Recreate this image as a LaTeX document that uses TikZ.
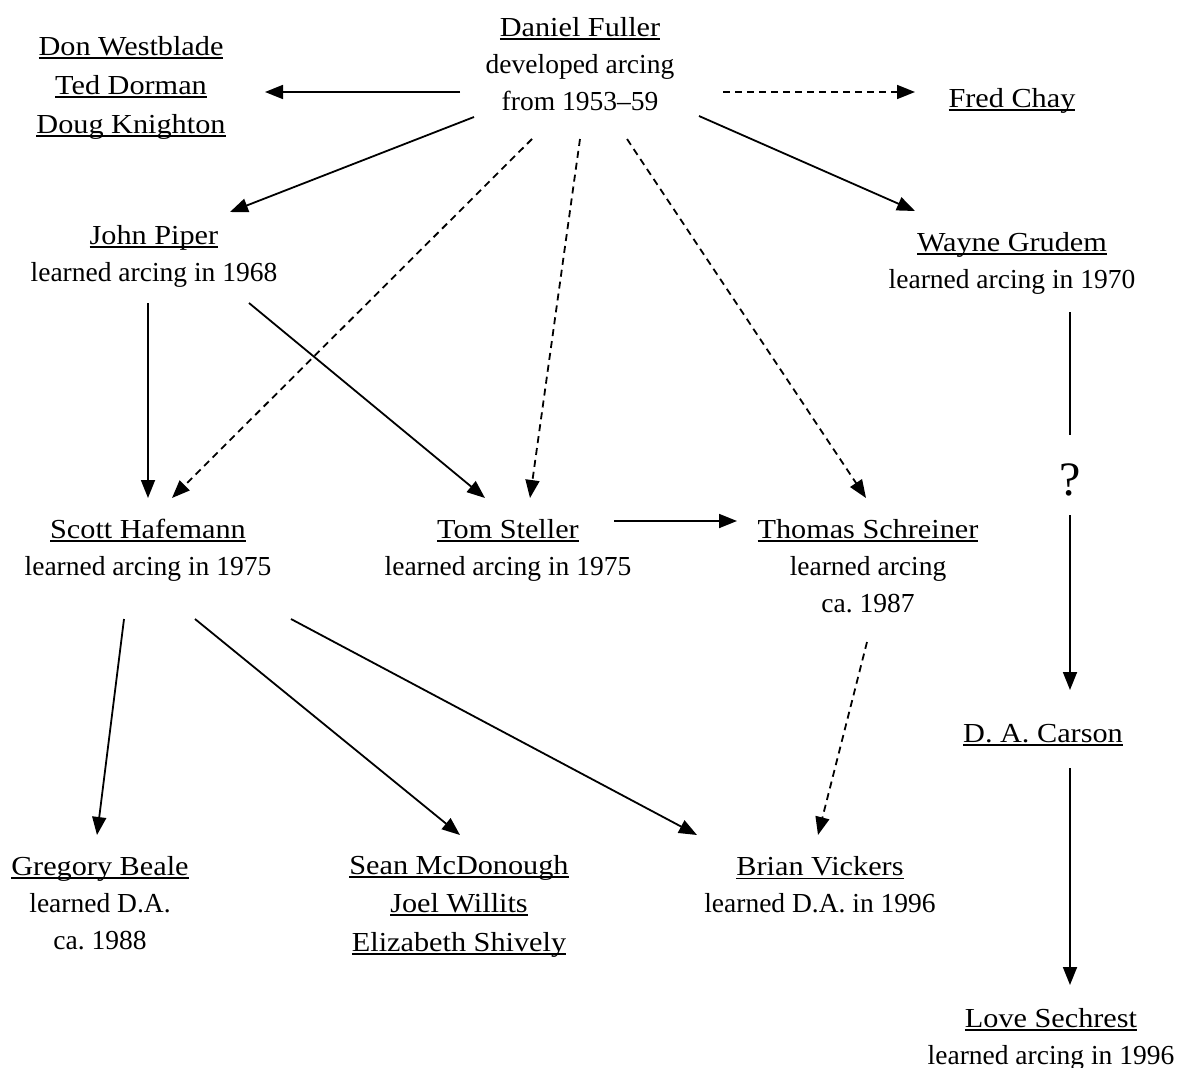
\documentclass[tikz,border=0pt]{standalone}
\usepackage{fontspec}
\setmainfont{Liberation Serif}
\usetikzlibrary{arrows.meta}
\newcommand{\undl}[1]{\setbox0\hbox{\addfontfeature{FakeStretch=1.1}#1}\rlap{\rule[-3.5pt]{\wd0}{1.8pt}}\box0}
\begin{document}
\begin{tikzpicture}[x=1pt,y=-1pt,
  person/.style={align=center, font=\fontsize{27.5}{37}\selectfont, inner sep=0pt},
  arr/.style={line width=1.8pt, -{Triangle[length=18pt,width=14pt]}},
  plain/.style={line width=1.8pt},
  dsh/.style={arr, dash pattern=on 7pt off 5pt}]
\useasboundingbox (0,0) rectangle (1179,1068);
\node[person] (ful) at (580,64) {\undl{Daniel Fuller}\\developed arcing\\from 1953–59};
\node[person, font=\fontsize{27.5}{39}\selectfont] (wes) at (131,88) {\undl{Don Westblade}\\\undl{Ted Dorman}\\\undl{Doug Knighton}};
\node[person] (chay) at (1012,101) {\undl{Fred Chay}};
\node[person] (pip) at (154,256) {\undl{John Piper}\\learned arcing in 1968};
\node[person] (gru) at (1012,263) {\undl{Wayne Grudem}\\learned arcing in 1970};
\node[person] (haf) at (148,550) {\undl{Scott Hafemann}\\learned arcing in 1975};
\node[person] (ste) at (508,550) {\undl{Tom Steller}\\learned arcing in 1975};
\node[person] (sch) at (868,566) {\undl{Thomas Schreiner}\\learned arcing\\ca.\ 1987};
\node[inner sep=0pt, font=\fontsize{48}{54}\selectfont] (q) at (1070,480) {?};
\node[person] (car) at (1043,735) {\undl{D. A. Carson}};
\node[person] (bea) at (100,903) {\undl{Gregory Beale}\\learned D.A.\\ca.\ 1988};
\node[person, font=\fontsize{27.5}{38.5}\selectfont] (sea) at (459,906) {\undl{Sean McDonough}\\\undl{Joel Willits}\\\undl{Elizabeth Shively}};
\node[person] (vic) at (820,885) {\undl{Brian Vickers}\\learned D.A. in 1996};
\node[person] (sec) at (1051,1039) {\undl{Love Sechrest}\\learned arcing in 1996};

\draw[arr] ([shift={(-120,28)}]ful.center) -- ([shift={(134,4)}]wes.center);
\draw[dsh] ([shift={(143,28)}]ful.center) -- ([shift={(-97,-9)}]chay.center);
\draw[arr] ([shift={(-106,53)}]ful.center) -- ([shift={(76,-44)}]pip.center);
\draw[dsh] ([shift={(-48,75)}]ful.center) -- ([shift={(24,-52)}]haf.center);
\draw[dsh] ([shift={(0,75)}]ful.center) -- ([shift={(22,-52)}]ste.center);
\draw[dsh] ([shift={(47,75)}]ful.center) -- ([shift={(-2,-68)}]sch.center);
\draw[arr] ([shift={(119,52)}]ful.center) -- ([shift={(-97,-52)}]gru.center);
\draw[arr] ([shift={(-6,47)}]pip.center) -- ([shift={(0,-52)}]haf.center);
\draw[arr] ([shift={(95,47)}]pip.center) -- ([shift={(-23,-52)}]ste.center);
\draw[arr] ([shift={(106,-29)}]ste.center) -- ([shift={(-131,-45)}]sch.center);
\draw[plain] ([shift={(58,49)}]gru.center) -- ([shift={(0,-45)}]q.center);
\draw[arr] ([shift={(0,35)}]q.center) -- ([shift={(27,-45)}]car.center);
\draw[arr] ([shift={(27,33)}]car.center) -- ([shift={(19,-54)}]sec.center);
\draw[arr] ([shift={(-24,69)}]haf.center) -- ([shift={(-3,-68)}]bea.center);
\draw[arr] ([shift={(47,69)}]haf.center) -- ([shift={(1,-71)}]sea.center);
\draw[arr] ([shift={(143,69)}]haf.center) -- ([shift={(-123,-50)}]vic.center);
\draw[dsh] ([shift={(-1,76)}]sch.center) -- ([shift={(-2,-50)}]vic.center);
\end{tikzpicture}
\end{document}
